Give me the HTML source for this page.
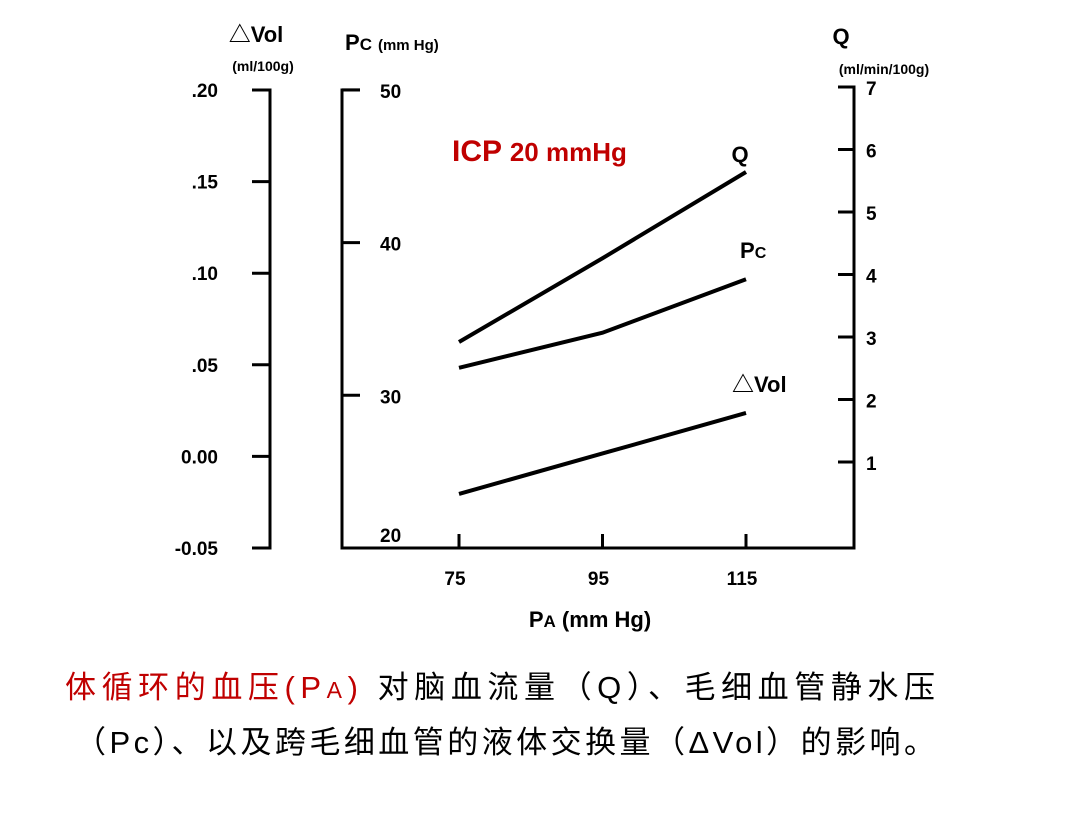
<!DOCTYPE html>
<html><head><meta charset="utf-8"><style>
body{margin:0;background:#fff;width:1080px;height:810px;overflow:hidden}
svg{font-family:"Liberation Sans","Noto Sans CJK SC",sans-serif}
.b{font-weight:bold}
</style></head><body>
<svg id="c" width="1080" height="810">
<text x="256" y="42" font-size="22" class="b" text-anchor="middle">△Vol</text>
<text x="263" y="71" font-size="14" class="b" text-anchor="middle">(ml/100g)</text>
<text x="345" y="50" font-size="22" class="b">P<tspan font-size="17">C</tspan><tspan font-size="15" dx="6">(mm Hg)</tspan></text>
<text x="841" y="44" font-size="22" class="b" text-anchor="middle">Q</text>
<text x="884" y="74" font-size="14" class="b" text-anchor="middle">(ml/min/100g)</text>
<text x="452" y="161" font-size="30" class="b" fill="#c00000">ICP <tspan font-size="26">20 mmHg</tspan></text>
<text x="590" y="627" font-size="22" class="b" text-anchor="middle">P<tspan font-size="17">A</tspan> (mm Hg)</text>
<text x="65" y="698" font-size="31" textLength="870" lengthAdjust="spacing"><tspan fill="#c00000">体循环的血压(P<tspan font-size="23">A</tspan>)</tspan> 对脑血流量（Q）、毛细血管静水压</text>
<text x="75" y="753" font-size="31" textLength="860" lengthAdjust="spacing">（Pc）、以及跨毛细血管的液体交换量（ΔVol）的影响。</text>
<g id="g"></g>
</svg>
<script>
const xCats=[75,95,115];
const qVals=[2.92,4.26,5.64];
const pcVals=[31.8,34.1,37.6];
const volVals=[-0.0205,0.0016,0.0237];
const volTicks=[0.20,0.15,0.10,0.05,0.00,-0.05];
const volTickLabels=[".20",".15",".10",".05","0.00","-0.05"];
const pcTicks=[50,40,30,20];
const qTicks=[7,6,5,4,3,2,1];
const NS="http://www.w3.org/2000/svg";
const g=document.getElementById('g');
const xS=v=>459+(v-75)*7.175;
const volS=v=>90+(0.2-v)*1832;
const pcS=v=>548-(v-20)*15.27;
const qS=v=>87+(7-v)*62.5;
function el(t,a){const e=document.createElementNS(NS,t);for(const k in a)e.setAttribute(k,a[k]);g.appendChild(e);return e;}
function txt(x,y,s,anchor,size){const e=el('text',{x:x,y:y,'font-size':size||19,'font-weight':'bold','text-anchor':anchor||'start'});e.textContent=s;return e;}
let a=el('path',{d:'M252 548H270V90H252',fill:'none',stroke:'#000','stroke-width':3});


a=el('path',{d:'M360 90H342V548H854V87H838',fill:'none',stroke:'#000','stroke-width':3});


volTicks.forEach((v,i)=>{const y=volS(v);
 const t=el('line',{x1:252,x2:270,y1:y,y2:y,stroke:'#000','stroke-width':3});
 
 
 const l=txt(218,y+7,volTickLabels[i],'end');
 
 });
pcTicks.forEach(v=>{const y=pcS(v);
 const t=el('line',{x1:342,x2:360,y1:y,y2:y,stroke:'#000','stroke-width':3});
 
 
 const l=txt(380,y+8+(v==20?-14:0),String(v));
 
 });
qTicks.forEach(v=>{const y=qS(v);
 const t=el('line',{x1:838,x2:854,y1:y,y2:y,stroke:'#000','stroke-width':3});
 
 
 const l=txt(866,y+8,String(v));
 
 });
xCats.forEach(v=>{const x=xS(v);
 const t=el('line',{x1:x,x2:x,y1:534,y2:548,stroke:'#000','stroke-width':3});
 
 
 const l=txt(x-4,585,String(v),'middle');
 
 });
function series(vals,sc,name){
 const p=el('polyline',{points:vals.map((v,i)=>xS(xCats[i])+','+sc(v)).join(' '),fill:'none',stroke:'#000','stroke-width':4});
 
 }
series(qVals,qS,'q-line');
series(pcVals,pcS,'pc-line');
series(volVals,volS,'vol-line');
let l=txt(740,162,'Q','middle',22);


l=el('text',{x:740,y:258,'font-size':22,'font-weight':'bold'});l.innerHTML='P<tspan font-size="16">C</tspan>';


l=txt(732,392,'△Vol','start',22);


</script>
</body></html>
